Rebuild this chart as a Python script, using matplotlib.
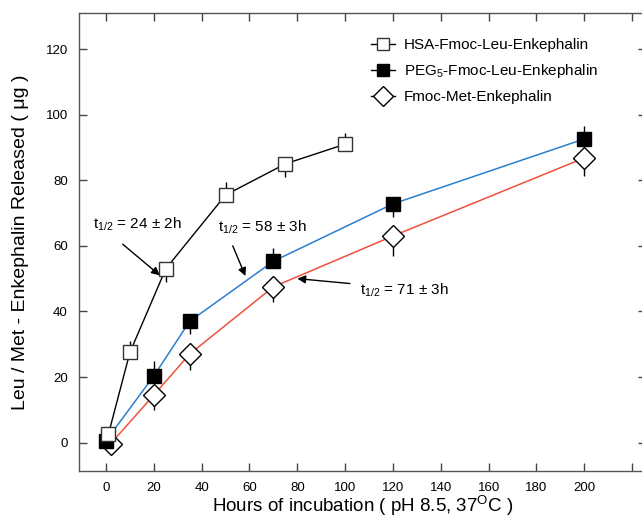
#!/usr/bin/env python3

from matplotlib import pyplot as plt
import numpy as np

plt.rcParams['font.family'] = ['Liberation Sans', 'DejaVu Sans']
plt.rcParams['mathtext.fontset'] = 'custom'
plt.rcParams['mathtext.rm'] = 'Liberation Sans'
plt.rcParams['mathtext.it'] = 'Liberation Sans'

# HSA-Fmoc-Leu-Enkephalin
hsa_hours = [1, 10, 25, 50, 75, 100]
hsa_ug = [2.5, 27.5, 53, 75.5, 85, 91]
hsa_err_lo = [0, 0, 4, 0, 4, 0]
hsa_err_hi = [0, 3.5, 0, 4, 0, 3.5]

# PEG5-Fmoc-Leu-Enkephalin
peg_hours = [0, 20, 35, 70, 120, 200]
peg_ug = [0.6, 20.3, 37, 55.3, 72.8, 92.6]
peg_err_lo = [0, 0, 4, 0, 4, 0]
peg_err_hi = [0, 4.5, 0, 4, 0, 4]

# Fmoc-Met-Enkephalin
met_hours = [2, 20, 35, 70, 120, 200]
met_ug = [-0.3, 14.5, 27, 47.5, 63, 86.8]
met_err_lo = [0, 4.5, 5, 4.5, 6, 5.5]
met_err_hi = [0, 0, 0, 0, 0, 0]

x_ticks = np.arange(0, 221, 20)
x_labels = [str(v) for v in range(0, 201, 20)] + [""]
y_ticks = np.arange(0, 121, 20)


def main():
    fig = plt.figure(figsize=(6.42, 5.2), dpi=100)
    ax = fig.add_axes([0.123, 0.094, 0.884, 0.881])

    ax.plot(hsa_hours, hsa_ug, "-", color="black", lw=1, zorder=2)
    ax.plot(peg_hours, peg_ug, "-", color="#2b7fd0", lw=1.1, zorder=2)
    ax.plot(met_hours, met_ug, "-", color="#f2503e", lw=1.1, zorder=2)

    for xs, ys, lo, hi in [(hsa_hours, hsa_ug, hsa_err_lo, hsa_err_hi),
                           (peg_hours, peg_ug, peg_err_lo, peg_err_hi),
                           (met_hours, met_ug, met_err_lo, met_err_hi)]:
        ax.errorbar(xs, ys, yerr=[lo, hi], fmt="none", ecolor="black",
                    elinewidth=1, capsize=0, zorder=1)

    ax.plot(met_hours, met_ug, "D", ms=11, mfc="white", mec="black", mew=1,
            zorder=3)
    ax.plot(peg_hours, peg_ug, "s", ms=10, mfc="black", mec="black", mew=1,
            zorder=4)
    ax.plot(hsa_hours, hsa_ug, "s", ms=10, mfc="white", mec="#333333", mew=1,
            zorder=5)

    # legend handles
    h1, = ax.plot([], [], "-s", color="black", lw=1, ms=9, mfc="white",
                  mec="#333333")
    h2, = ax.plot([], [], "-s", color="black", lw=1, ms=9, mfc="black")
    h3, = ax.plot([], [], "-D", color="black", lw=1, ms=10, mfc="white")
    ax.legend([h1, h2, h3],
              ["HSA-Fmoc-Leu-Enkephalin", "PEG$_5$-Fmoc-Leu-Enkephalin",
               "Fmoc-Met-Enkephalin"],
              loc="upper left", bbox_to_anchor=(0.49, 0.975), frameon=False,
              fontsize=11, handlelength=1.6, handletextpad=0.55,
              labelspacing=0.65)

    arrow = dict(arrowstyle="-|>", color="black", lw=1, mutation_scale=12,
                 shrinkA=0, shrinkB=0)
    ax.annotate("", xy=(22.5, 51), xytext=(7, 60.5), arrowprops=arrow)
    ax.text(-5.5, 66.5, "t$_{1/2}$ = 24 ± 2h", fontsize=11, va="center")
    ax.annotate("", xy=(58.3, 50.8), xytext=(53, 60), arrowprops=arrow)
    ax.text(47, 65.5, "t$_{1/2}$ = 58 ± 3h", fontsize=11, va="center")
    ax.annotate("", xy=(80, 50), xytext=(102, 48.5), arrowprops=arrow)
    ax.text(106, 46.5, "t$_{1/2}$ = 71 ± 3h", fontsize=11, va="center")

    ax.set_xlim(-11.3, 226)
    ax.set_ylim(-8.7, 131)
    ax.set_xticks(x_ticks)
    ax.set_xticklabels(x_labels)
    ax.set_yticks(y_ticks)
    ax.tick_params(direction="in", length=6, width=1, color="#444444",
                   labelsize=9.5, top=True, right=True, pad=8)
    for sp in ax.spines.values():
        sp.set_color("#555555")
        sp.set_linewidth(1)

    ax.set_xlabel("Hours of incubation ( pH 8.5, 37$^{\\mathrm{O}}$C )",
                  fontsize=13.5, labelpad=0)
    ax.set_ylabel("Leu / Met - Enkephalin Released ( μg )", fontsize=14,
                  labelpad=12)

    fig.savefig("out.png", dpi=100)


if __name__ == "__main__":
    main()
